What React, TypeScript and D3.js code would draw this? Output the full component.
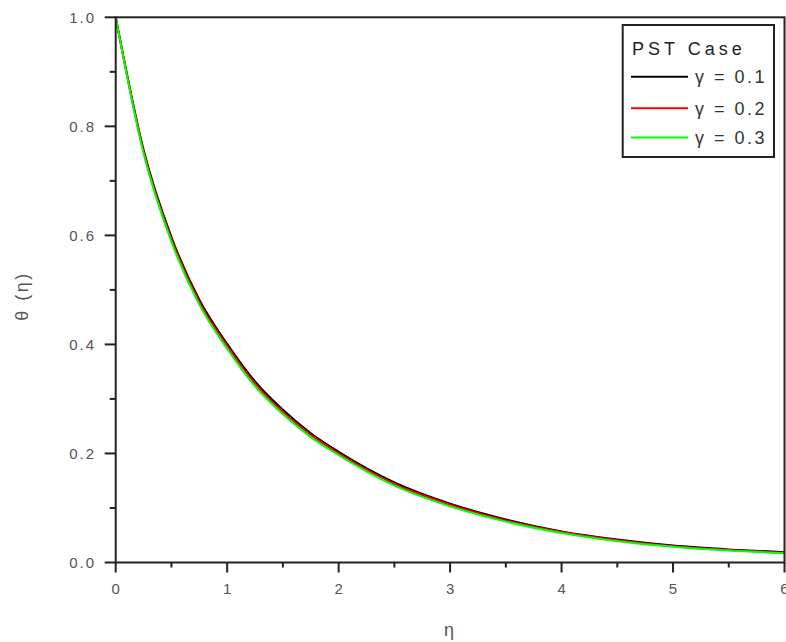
import React from "react";
import * as d3 from "d3";

const etaValues = [0, 0.25, 0.5, 0.75, 1, 1.25, 1.5, 1.75, 2, 2.5, 3, 3.5, 4, 4.5, 5, 5.5, 6];
const theta01 = [1.0, 0.757, 0.597, 0.482, 0.401, 0.332, 0.280, 0.237, 0.203, 0.147, 0.108, 0.079, 0.057, 0.042, 0.031, 0.024, 0.019];
const theta02 = [1.0, 0.754, 0.593, 0.478, 0.397, 0.328, 0.276, 0.234, 0.200, 0.144, 0.106, 0.077, 0.056, 0.041, 0.030, 0.023, 0.018];
const theta03 = [1.0, 0.750, 0.588, 0.473, 0.392, 0.323, 0.272, 0.230, 0.197, 0.141, 0.103, 0.075, 0.054, 0.039, 0.029, 0.022, 0.017];
const seriesLabels = ["γ = 0.1", "γ = 0.2", "γ = 0.3"];
const seriesColors = ["#000000", "#ff0000", "#00ff00"];
const xTicks = [0, 1, 2, 3, 4, 5, 6];
const xMinorTicks = [0.5, 1.5, 2.5, 3.5, 4.5, 5.5];
const yTicks = [0, 0.2, 0.4, 0.6, 0.8, 1.0];
const yMinorTicks = [0.1, 0.3, 0.5, 0.7, 0.9];
const legendTitle = "PST Case";
const xTitle = "η";
const yTitle = "θ (η)";

export default function App() {
  const W = 786, H = 642;
  const left = 115.7, right = 784.5, top = 17.3, bottom = 562.5;
  const x = d3.scaleLinear().domain([0, 6]).range([left, right]);
  const y = d3.scaleLinear().domain([0, 1]).range([bottom, top]);
  const series = [theta01, theta02, theta03];
  const line = d3
    .line<number>()
    .x((_, i) => x(etaValues[i]))
    .y((d) => y(d))
    .curve(d3.curveMonotoneX);
  const font = "'Liberation Sans', Arial, sans-serif";
  const axisColor = "#222";
  const labelColor = "#555";

  const lg = { x: 622.7, y: 25, w: 151.3, h: 132 };
  const entryY = [76.7, 108.3, 137.5];

  return (
    <svg
      width={W}
      height={H}
      style={{ position: "absolute", left: 0, top: 0, display: "block", background: "#fff" }}
    >
      <rect x={0} y={0} width={W} height={H} fill="#fff" />
      <defs>
        <clipPath id="clip">
          <rect x={left} y={top} width={right - left} height={bottom - top} />
        </clipPath>
      </defs>
      {/* curves */}
      <g clipPath="url(#clip)">
        {series.map((s, i) => (
          <path key={i} d={line(s) || ""} fill="none" stroke={seriesColors[i]} strokeWidth={2} />
        ))}
      </g>
      {/* frame */}
      <rect x={left} y={top} width={right - left} height={bottom - top} fill="none" stroke={axisColor} strokeWidth={2} />
      {/* x ticks */}
      {xTicks.map((t) => (
        <g key={"xt" + t}>
          <line x1={x(t)} x2={x(t)} y1={bottom} y2={bottom + 10} stroke={axisColor} strokeWidth={2} />
          <text
            x={x(t)}
            y={594}
            textAnchor="middle"
            fontFamily={font}
            fontSize={15}
            fill={labelColor}
          >
            {t}
          </text>
        </g>
      ))}
      {xMinorTicks.map((t) => (
        <line key={"xm" + t} x1={x(t)} x2={x(t)} y1={bottom} y2={bottom + 5} stroke={axisColor} strokeWidth={2} />
      ))}
      {/* y ticks */}
      {yTicks.map((t) => (
        <g key={"yt" + t}>
          <line x1={left - 11} x2={left} y1={y(t)} y2={y(t)} stroke={axisColor} strokeWidth={2} />
          <text
            x={96}
            y={y(t)}
            dy="0.36em"
            textAnchor="end"
            fontFamily={font}
            fontSize={15}
            letterSpacing={2}
            fill={labelColor}
          >
            {t.toFixed(1)}
          </text>
        </g>
      ))}
      {yMinorTicks.map((t) => (
        <line key={"ym" + t} x1={left - 6} x2={left} y1={y(t)} y2={y(t)} stroke={axisColor} strokeWidth={2} />
      ))}
      {/* axis titles */}
      <text x={449} y={636} textAnchor="middle" fontFamily={font} fontSize={18} fill={labelColor}>
        {xTitle}
      </text>
      <text
        transform={`translate(28, 296) rotate(-90)`}
        textAnchor="middle"
        fontFamily={font}
        fontSize={18}
        letterSpacing={2.5}
        fill={labelColor}
      >
        {yTitle}
      </text>
      {/* legend */}
      <rect x={lg.x} y={lg.y} width={lg.w} height={lg.h} fill="#fff" stroke={axisColor} strokeWidth={2} />
      <text x={632} y={55} fontFamily={font} fontSize={18} letterSpacing={4} fill="#222">
        {legendTitle}
      </text>
      {seriesLabels.map((lab, i) => (
        <g key={lab}>
          <line x1={631} x2={688} y1={entryY[i]} y2={entryY[i]} stroke={seriesColors[i]} strokeWidth={2} />
          <text
            x={695}
            y={entryY[i]}
            dy="0.36em"
            fontFamily={font}
            fontSize={18}
            letterSpacing={2.5}
            fill="#333"
          >
            {lab}
          </text>
        </g>
      ))}
    </svg>
  );
}
